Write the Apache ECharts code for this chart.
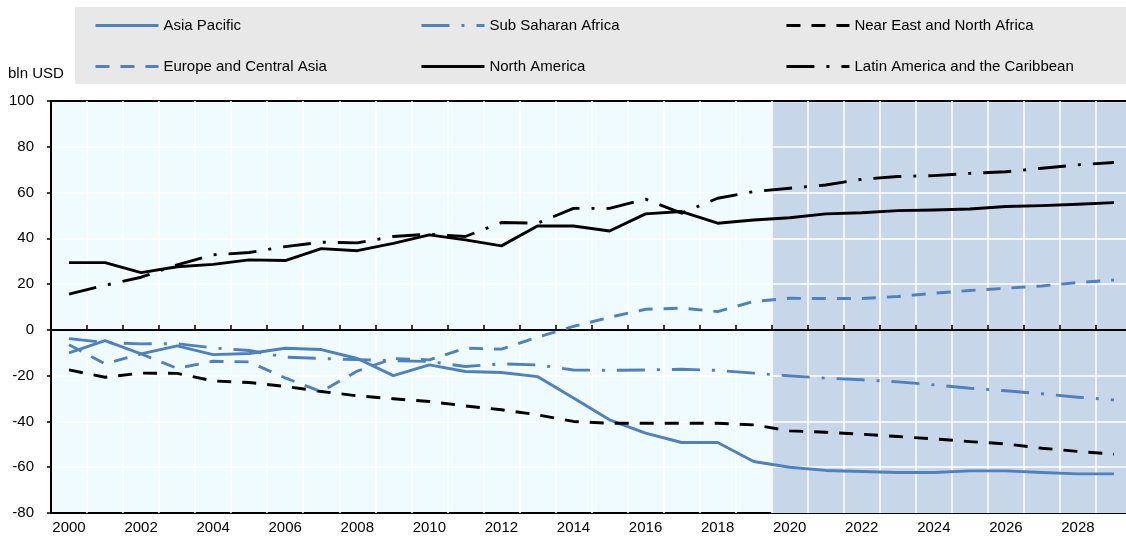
<!DOCTYPE html>
<html>
<head>
<meta charset="utf-8">
<script src="https://cdn.jsdelivr.net/npm/echarts@6/dist/echarts.min.js"></script>
<style>
html,body{margin:0;padding:0;background:#fff;}
#chart{width:1126px;height:541px;}
</style>
</head>
<body>
<div id="chart"></div>
<script>
const years = ['2000','2001','2002','2003','2004','2005','2006','2007','2008','2009',
  '2010','2011','2012','2013','2014','2015','2016','2017','2018','2019',
  '2020','2021','2022','2023','2024','2025','2026','2027','2028','2029'];

const asiaPacific = [-10.0,-4.7,-10.5,-7.0,-10.8,-10.3,-8.0,-8.6,-12.5,-20.0,
  -15.3,-18.2,-18.6,-20.4,-29.8,-39.3,-45.1,-49.2,-49.2,-57.5,
  -60.0,-61.4,-61.9,-62.3,-62.3,-61.6,-61.6,-62.3,-62.9,-62.9];
const subSaharanAfrica = [-3.8,-5.5,-6.1,-6.0,-7.9,-9.0,-11.9,-12.5,-13.0,-13.5,
  -13.8,-16.0,-14.8,-15.3,-17.5,-17.7,-17.5,-17.2,-17.7,-18.9,
  -20.1,-21.1,-21.8,-22.7,-24.0,-25.5,-26.6,-27.9,-29.4,-30.6];
const nearEastNorthAfrica = [-17.5,-20.7,-18.9,-19.0,-22.3,-23.0,-24.7,-26.9,-28.8,-30.1,
  -31.3,-33.2,-34.9,-37.1,-40.0,-40.8,-40.8,-40.8,-40.8,-41.5,
  -44.1,-44.7,-45.6,-46.6,-47.6,-48.8,-49.8,-51.7,-53.1,-54.3];
const europeCentralAsia = [-6.5,-14.8,-10.5,-16.8,-13.7,-14.0,-21.0,-27.0,-18.0,-12.5,
  -13.1,-8.0,-8.4,-3.2,1.5,5.5,9.0,9.5,8.0,12.4,
  13.8,13.7,13.7,14.6,16.0,17.2,18.2,19.2,20.7,21.8];
const northAmerica = [29.4,29.4,25.0,27.6,28.6,30.6,30.3,35.5,34.6,37.8,
  41.5,39.3,36.7,45.4,45.4,43.2,50.7,51.7,46.6,48.0,
  49.0,50.7,51.2,52.1,52.4,52.8,53.9,54.3,54.9,55.6];
const latinAmerica = [15.6,19.5,23.0,28.4,32.8,33.8,36.4,38.3,38.0,40.8,
  41.8,40.8,46.9,46.6,53.1,53.1,57.1,51.0,57.5,60.4,
  61.9,63.3,65.8,67.0,67.4,68.4,69.1,70.6,72.1,73.1];

const yTicks = {min: -80, max: 100, interval: 20};
const projectionStartIndex = 20; // 2020

const BLUE = '#4F81BD';
const BLACK = '#000000';
const FONT = 'Liberation Sans, Arial, sans-serif';
const DASHDOT = [28, 12, 3, 12];
const DASH = [14, 11];

function lineSeries(name, data, color, type) {
  return {
    name: name, type: 'line', data: data, symbol: 'none', z: 3,
    xAxisIndex: 0, yAxisIndex: 0,
    lineStyle: {color: color, width: 2.9, type: type, cap: 'butt', join: 'round'},
    itemStyle: {color: color},
    emphasis: {disabled: true}
  };
}

const legendCommon = {
  orient: 'vertical', itemWidth: 63, itemHeight: 14, itemGap: 26, padding: 0,
  textStyle: {fontFamily: FONT, fontSize: 15, color: '#000'},
  lineStyle: {width: 2.9},
  itemStyle: {opacity: 0},
  selectedMode: false
};

const chart = echarts.init(document.getElementById('chart'), null, {renderer: 'canvas'});
chart.setOption({
  animation: false,
  backgroundColor: '#ffffff',
  title: {text: 'bln USD', left: 8, top: 66, padding: 0,
    textStyle: {fontFamily: FONT, fontSize: 15, fontWeight: 'normal', color: '#000'}},
  graphic: [{type: 'rect', z: -10, silent: true,
    shape: {x: 75, y: 7, width: 1060, height: 77}, style: {fill: '#E8E8E8'}}],
  legend: [
    Object.assign({}, legendCommon, {left: 94, top: 18, data: ['Asia Pacific', 'Europe and Central Asia']}),
    Object.assign({}, legendCommon, {left: 420, top: 18, data: ['Sub Saharan Africa', 'North America']}),
    Object.assign({}, legendCommon, {left: 785, top: 18, data: ['Near East and North Africa', 'Latin America and the Caribbean']})
  ],
  grid: {left: 51, width: 1081, top: 101, bottom: 28, show: true, outerBoundsMode: 'none',
    backgroundColor: '#F0FBFF', borderColor: '#000', borderWidth: 2, containLabel: false},
  xAxis: [
    {type: 'category', data: years, position: 'bottom', z: 2,
      axisLine: {show: false, onZero: false}, axisTick: {show: false},
      axisLabel: {interval: 1, fontFamily: FONT, fontSize: 15, color: '#000', margin: 7},
      splitLine: {show: true, interval: 0, showMinLine: false, showMaxLine: false,
        lineStyle: {color: '#ffffff', width: 1.5}}},
    {type: 'category', data: years, position: 'bottom', z: 2,
      axisLine: {show: true, onZero: true, lineStyle: {color: '#000', width: 2}},
      axisTick: {show: true, inside: true, interval: 0, length: 5, lineStyle: {color: '#000', width: 1.5}},
      axisLabel: {show: false}, splitLine: {show: false}},
    {type: 'value', min: 0, max: years.length, show: false}
  ],
  yAxis: [{type: 'value', min: yTicks.min, max: yTicks.max, interval: yTicks.interval, z: 2,
    axisLine: {show: true, onZero: false, lineStyle: {color: '#000', width: 2}},
    axisTick: {show: true, length: 4, lineStyle: {color: '#000', width: 1.5}},
    axisLabel: {fontFamily: FONT, fontSize: 15, color: '#000', margin: 17},
    splitLine: {show: true, showMinLine: false, showMaxLine: false, lineStyle: {color: '#ffffff', width: 1.5}}}],
  series: [
    {name: 'projection', type: 'line', xAxisIndex: 2, yAxisIndex: 0, data: [], z: 1, clip: false,
      markArea: {silent: true, itemStyle: {color: '#C8D6EA'},
        data: [[{xAxis: projectionStartIndex, yAxis: yTicks.min - 0.5}, {xAxis: years.length, yAxis: yTicks.max - 0.6}]]}},
    lineSeries('Asia Pacific', asiaPacific, BLUE, 'solid'),
    lineSeries('Sub Saharan Africa', subSaharanAfrica, BLUE, DASHDOT),
    lineSeries('Near East and North Africa', nearEastNorthAfrica, BLACK, DASH),
    lineSeries('Europe and Central Asia', europeCentralAsia, BLUE, DASH),
    lineSeries('North America', northAmerica, BLACK, 'solid'),
    lineSeries('Latin America and the Caribbean', latinAmerica, BLACK, DASHDOT)
  ]
});
</script>
</body>
</html>
